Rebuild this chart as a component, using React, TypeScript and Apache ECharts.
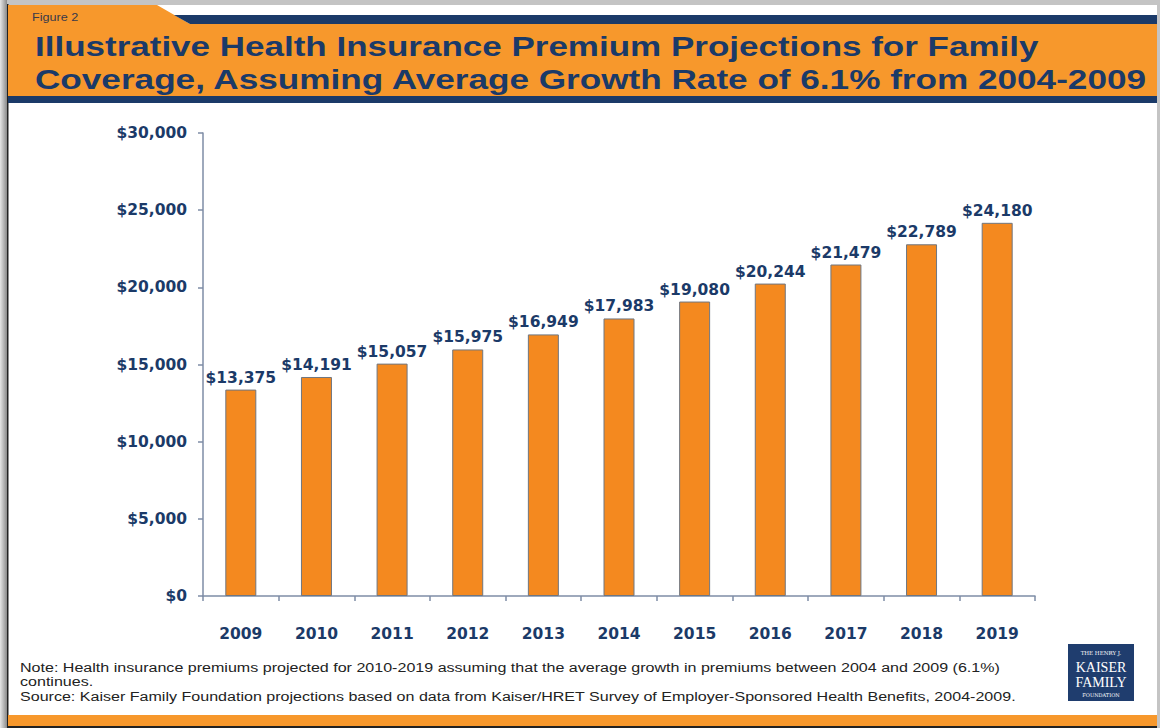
import React, { useEffect, useRef } from "react";
import * as echarts from "echarts";

const years = ["2009", "2010", "2011", "2012", "2013", "2014", "2015", "2016", "2017", "2018", "2019"];
const premiums = [13375, 14191, 15057, 15975, 16949, 17983, 19080, 20244, 21479, 22789, 24180];
const yMax = 30000;
const yStep = 5000;

const titleLines = [
  "Illustrative Health Insurance Premium Projections for Family",
  "Coverage, Assuming Average Growth Rate of 6.1% from 2004-2009",
];
const noteLines = [
  "Note: Health insurance premiums projected for 2010-2019 assuming that the average growth in premiums between 2004 and 2009 (6.1%)",
  "continues.",
  "Source: Kaiser Family Foundation projections based on data from Kaiser/HRET Survey of Employer-Sponsored Health Benefits, 2004-2009.",
];

const NAVY = "#1B3A68";
const ORANGE = "#F7982C";
const BAR = "#F4891F";

const fmt = (v: number) => "$" + v.toLocaleString("en-US");

export default function App() {
  const ref = useRef<HTMLDivElement>(null);
  useEffect(() => {
    if (!ref.current) return;
    const chart = echarts.init(ref.current, null, { renderer: "svg" });
    const serif = "DejaVu Serif, Liberation Serif, serif";
    chart.setOption({
      animation: false,
      backgroundColor: "#ffffff",
      grid: { left: 203, top: 133, width: 832, height: 463, containLabel: false },
      xAxis: {
        type: "category",
        data: years,
        axisLine: { lineStyle: { color: "#7E8DA6", width: 1.5 } },
        axisTick: { show: true, alignWithLabel: false, length: 5, lineStyle: { color: "#7E8DA6", width: 1.5 } },
        axisLabel: { margin: 30, color: NAVY, fontWeight: "bold", fontSize: 15.5, fontFamily: "DejaVu Sans" },
      },
      yAxis: {
        type: "value",
        min: 0,
        max: yMax,
        interval: yStep,
        axisLine: { show: true, lineStyle: { color: "#7E8DA6", width: 1.5 } },
        axisTick: { show: true, length: 5, lineStyle: { color: "#7E8DA6", width: 1.5 } },
        splitLine: { show: false },
        axisLabel: {
          margin: 16,
          color: NAVY,
          fontWeight: "bold",
          fontSize: 15.5,
          fontFamily: "DejaVu Sans",
          formatter: (v: number) => fmt(v),
        },
      },
      series: [
        {
          type: "bar",
          data: premiums,
          barWidth: 31,
          itemStyle: { color: BAR, borderColor: "#6F7680", borderWidth: 1 },
          label: {
            show: true,
            position: "top",
            distance: 4,
            color: NAVY,
            fontWeight: "bold",
            fontSize: 15.5,
            fontFamily: "DejaVu Sans",
            formatter: (p: any) => fmt(p.value),
          },
        },
      ],
      graphic: [
        // outer frame
        { type: "rect", shape: { x: 0, y: 0, width: 1160, height: 5 }, style: { fill: "#C4C4C4" }, silent: true },
        {
          type: "rect",
          shape: { x: 0, y: 0, width: 7, height: 728 },
          style: {
            fill: new echarts.graphic.LinearGradient(0, 0, 1, 0, [
              { offset: 0, color: "#E6E6E6" },
              { offset: 1, color: "#8A8A8A" },
            ]),
          },
          silent: true,
        },
        { type: "rect", shape: { x: 7, y: 4, width: 1.5, height: 724 }, style: { fill: "#222" }, silent: true },
        { type: "rect", shape: { x: 1157, y: 0, width: 3, height: 728 }, style: { fill: "#C4C4C4" }, silent: true },
        // header
        {
          type: "polygon",
          shape: { points: [[8, 5], [157, 5], [190, 24], [1157, 24], [1157, 97], [8, 97]] },
          style: { fill: ORANGE },
          silent: true,
        },
        {
          type: "polygon",
          shape: { points: [[174, 15], [1157, 15], [1157, 24], [190, 24]] },
          style: { fill: NAVY },
          silent: true,
        },
        { type: "rect", shape: { x: 8, y: 96, width: 1149, height: 7 }, style: { fill: NAVY }, silent: true },
        {
          type: "text",
          x: 32,
          y: 17,
          scaleX: 1.15,
          style: { text: "Figure 2", fill: "#3A3A4A", font: "11px Liberation Sans, Arial, sans-serif", textVerticalAlign: "middle" },
          silent: true,
        },
        {
          type: "text",
          x: 35,
          y: 46,
          scaleX: 1.25,
          style: { text: titleLines[0], fill: NAVY, font: "bold 28px Liberation Sans, Arial, sans-serif", textVerticalAlign: "middle" },
          silent: true,
        },
        {
          type: "text",
          x: 35,
          y: 79,
          scaleX: 1.255,
          style: { text: titleLines[1], fill: NAVY, font: "bold 28px Liberation Sans, Arial, sans-serif", textVerticalAlign: "middle" },
          silent: true,
        },
        // notes
        ...noteLines.map((t, i) => ({
          type: "text",
          x: 20,
          y: [667, 681, 696][i],
          scaleX: 1.19,
          style: { text: t, fill: "#222222", font: "13.5px Liberation Sans, Arial, sans-serif", textVerticalAlign: "middle" },
          silent: true,
        })),
        // bottom band
        { type: "rect", shape: { x: 8, y: 715, width: 1149, height: 11 }, style: { fill: ORANGE }, silent: true },
        { type: "rect", shape: { x: 7, y: 726, width: 1150, height: 2 }, style: { fill: "#222" }, silent: true },
        // logo
        { type: "rect", shape: { x: 1068, y: 644, width: 66, height: 57 }, style: { fill: "#1F3D6E" }, silent: true },
        {
          type: "text", x: 1101, y: 653,
          style: { text: "THE HENRY J.", fill: "#fff", font: "5.5px " + serif, textAlign: "center", textVerticalAlign: "middle" },
          silent: true,
        },
        {
          type: "text", x: 1101, y: 667,
          style: { text: "KAISER", fill: "#fff", font: "14px Liberation Serif, serif", textAlign: "center", textVerticalAlign: "middle" },
          silent: true,
        },
        {
          type: "text", x: 1101, y: 682,
          style: { text: "FAMILY", fill: "#fff", font: "14px Liberation Serif, serif", textAlign: "center", textVerticalAlign: "middle" },
          silent: true,
        },
        {
          type: "text", x: 1101, y: 695,
          style: { text: "FOUNDATION", fill: "#fff", font: "5px " + serif, textAlign: "center", textVerticalAlign: "middle" },
          silent: true,
        },
      ],
    });
    return () => chart.dispose();
  }, []);
  return <div ref={ref} style={{ position: "absolute", left: 0, top: 0, width: 1160, height: 728 }} />;
}
